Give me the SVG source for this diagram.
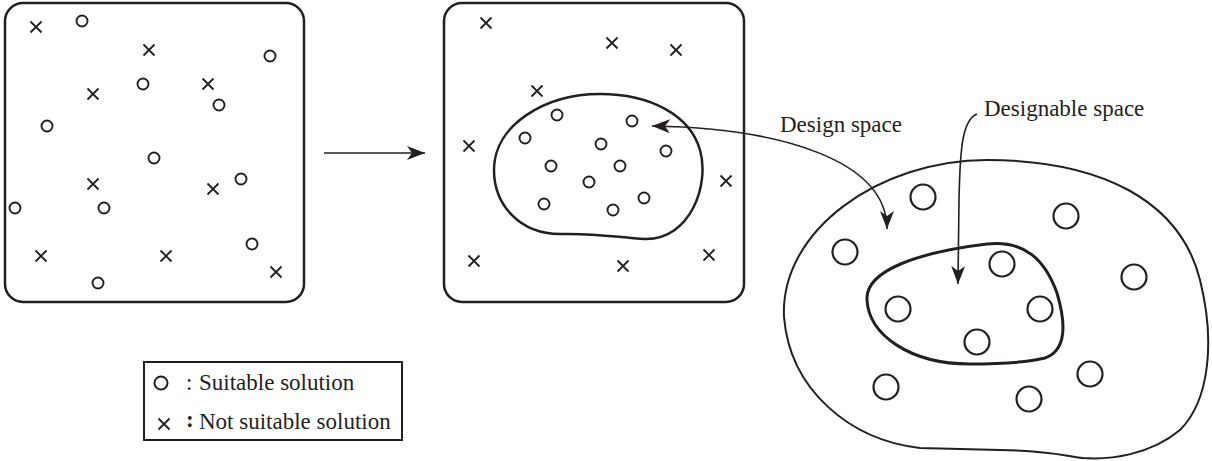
<svg xmlns="http://www.w3.org/2000/svg" xmlns:xlink="http://www.w3.org/1999/xlink" width="1212" height="461" viewBox="0 0 1212 461">
<style>
.box{fill:none;stroke:#231f20;stroke-width:2.5}
.blob{fill:none;stroke:#231f20;stroke-width:2.5}
.sc{fill:none;stroke:#231f20;stroke-width:1.9}
.bc{fill:none;stroke:#231f20;stroke-width:2.2}
.xm{fill:none;stroke:#231f20;stroke-width:1.8}
.con{fill:none;stroke:#231f20;stroke-width:1.6}
.lbl{font-family:"Liberation Serif","Times New Roman",serif;font-size:23px;fill:#231f20}
</style>
<defs>
<path id="xm" class="xm" d="M-5.5,-5.5 L5.5,5.5 M-5.5,5.5 L5.5,-5.5"/>
<marker id="ah" markerUnits="userSpaceOnUse" markerWidth="20" markerHeight="16" refX="18" refY="7" orient="auto-start-reverse">
<path d="M0,0 L18,7 L0,14 L5,7 Z" fill="#231f20"/>
</marker>
</defs>

<g id="space-all">
<rect class="box" x="5" y="3" width="299" height="299" rx="18"/>
<use xlink:href="#xm" x="36" y="27"/>
<use xlink:href="#xm" x="149" y="50"/>
<use xlink:href="#xm" x="208" y="84"/>
<use xlink:href="#xm" x="93" y="94"/>
<use xlink:href="#xm" x="93" y="184"/>
<use xlink:href="#xm" x="213" y="189"/>
<use xlink:href="#xm" x="41" y="256"/>
<use xlink:href="#xm" x="166" y="256"/>
<use xlink:href="#xm" x="276" y="272"/>
<circle class="sc" cx="82" cy="21" r="5.5"/>
<circle class="sc" cx="270" cy="56" r="5.5"/>
<circle class="sc" cx="143" cy="84" r="5.5"/>
<circle class="sc" cx="219" cy="105" r="5.5"/>
<circle class="sc" cx="47" cy="126" r="5.5"/>
<circle class="sc" cx="154" cy="158" r="5.5"/>
<circle class="sc" cx="241" cy="179" r="5.5"/>
<circle class="sc" cx="15" cy="208" r="5.5"/>
<circle class="sc" cx="104" cy="208" r="5.5"/>
<circle class="sc" cx="252" cy="244" r="5.5"/>
<circle class="sc" cx="98" cy="283" r="5.5"/>
</g>

<g id="space-grouped">
<rect class="box" x="444" y="3" width="300" height="299" rx="18"/>
<use xlink:href="#xm" x="486" y="23"/>
<use xlink:href="#xm" x="612" y="43"/>
<use xlink:href="#xm" x="676" y="50"/>
<use xlink:href="#xm" x="537" y="91"/>
<use xlink:href="#xm" x="469" y="146"/>
<use xlink:href="#xm" x="726" y="181"/>
<use xlink:href="#xm" x="474" y="261"/>
<use xlink:href="#xm" x="623" y="266"/>
<use xlink:href="#xm" x="709" y="255"/>
<path class="blob" d="M 494 170 C 494 125, 545 94, 600 94 C 650 94, 690 115, 700 150 C 710 185, 690 240, 645 239 C 620 238, 600 233, 560 234 C 520 234, 494 205, 494 170 Z"/>
<circle class="sc" cx="557" cy="115" r="5.5"/>
<circle class="sc" cx="632" cy="121" r="5.5"/>
<circle class="sc" cx="525" cy="138" r="5.5"/>
<circle class="sc" cx="601" cy="144" r="5.5"/>
<circle class="sc" cx="666" cy="151" r="5.5"/>
<circle class="sc" cx="551" cy="166" r="5.5"/>
<circle class="sc" cx="620" cy="166" r="5.5"/>
<circle class="sc" cx="589" cy="182" r="5.5"/>
<circle class="sc" cx="544" cy="204" r="5.5"/>
<circle class="sc" cx="644" cy="198" r="5.5"/>
<circle class="sc" cx="613" cy="210" r="5.5"/>
</g>

<g id="design-space">
<path fill="none" stroke="#231f20" stroke-width="2" d="M 987 160 C 1100 160, 1180 200, 1200 280 C 1215 340, 1210 400, 1180 430 C 1150 455, 1110 460, 1083 458 C 1060 455, 1050 451, 1000 450 L 920 448 C 850 440, 790 390, 784 317 C 780 230, 880 160, 987 160 Z"/>
<circle class="bc" cx="923" cy="197" r="12.5"/>
<circle class="bc" cx="1066" cy="216" r="12.5"/>
<circle class="bc" cx="845" cy="252" r="12.5"/>
<circle class="bc" cx="1134" cy="277" r="12.5"/>
<circle class="bc" cx="886" cy="387" r="12.5"/>
<circle class="bc" cx="1090" cy="374" r="12.5"/>
<circle class="bc" cx="1029" cy="399" r="12.5"/>
</g>

<g id="designable-space">
<path fill="none" stroke="#231f20" stroke-width="3" d="M 867 300 C 865 270, 920 252, 987 244 C 1025 240, 1045 260, 1057 293 C 1065 320, 1068 350, 1045 358 C 1025 363, 1000 364, 970 364 C 910 364, 869 335, 867 300 Z"/>
<circle class="bc" cx="1002" cy="264" r="12.5"/>
<circle class="bc" cx="898" cy="309" r="12.5"/>
<circle class="bc" cx="1040" cy="309" r="12.5"/>
<circle class="bc" cx="977" cy="342" r="12.5"/>
</g>

<g id="labels">
<text class="lbl" x="780" y="132">Design space</text>
<text class="lbl" x="984" y="116">Designable space</text>
</g>

<g id="connectors">
<path class="con" d="M 324 153 L 425 153" marker-end="url(#ah)"/>
<path class="con" d="M 652 126 C 780 128, 887 160, 887 229" marker-start="url(#ah)" marker-end="url(#ah)"/>
<path class="con" d="M 977 114 C 962 120, 960 150, 959 200 L 958 284" marker-end="url(#ah)"/>
</g>

<g id="legend">
<rect fill="none" stroke="#231f20" stroke-width="2" x="144" y="362" width="258" height="78"/>
<circle fill="none" stroke="#231f20" stroke-width="2" cx="161" cy="383" r="6.5"/>
<text class="lbl" x="186" y="390">:</text>
<text class="lbl" x="199" y="390">Suitable solution</text>
<use xlink:href="#xm" x="164" y="424"/>
<text class="lbl" x="186" y="427" style="font-weight:bold">:</text>
<text class="lbl" x="199" y="429">Not suitable solution</text>
</g>
</svg>
